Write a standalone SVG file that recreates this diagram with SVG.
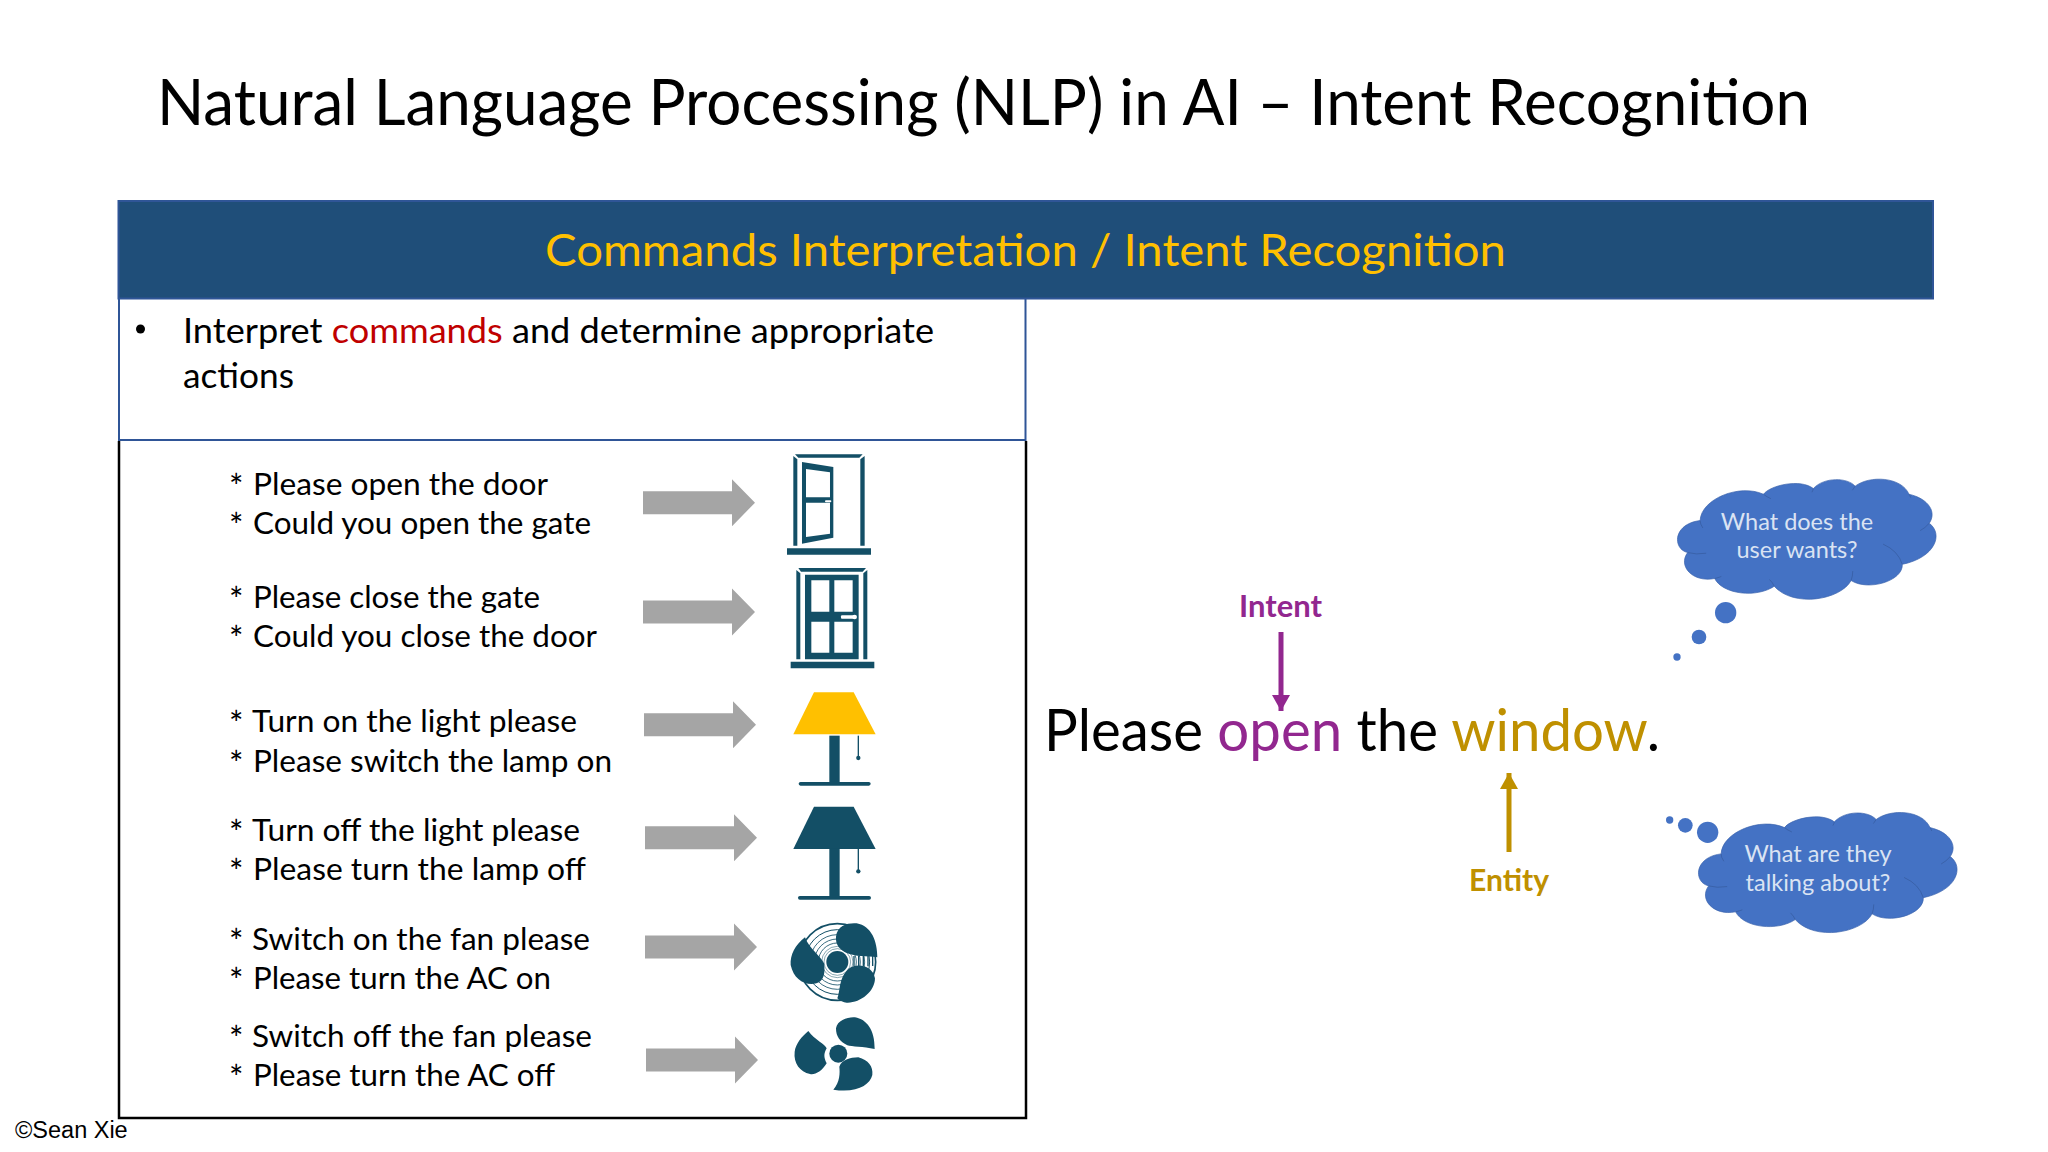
<svg xmlns="http://www.w3.org/2000/svg" xmlns:xlink="http://www.w3.org/1999/xlink" width="2048" height="1152" viewBox="0 0 2048 1152">
<style>
text{font-family:"Lato","Carlito","Open Sans",sans-serif;fill:#000}
.title{font-size:64px}
.hd{font-size:45px;fill:#ffc000}
.body{font-size:34px}
.red{fill:#c00000}
.ln{font-size:30px}
.star{font-size:34px}
.sent{font-size:58px}
.pur{fill:#92278f}
.gold{fill:#bf9000}
.lab{font-size:30px;font-weight:700}
.cl{font-size:23.500px;fill:#dae3f3;text-anchor:middle}
.icon{fill:#134f66}
.w{fill:#fff}
.cloud{fill:#4472c4;stroke:#3a62ab;stroke-width:2}
.fold{fill:none;stroke:#2f528f;stroke-width:1.500}
.bub{fill:#4472c4}
.gray{fill:#a5a5a5}
</style>
<defs>
<path id="ga" d="M0,-11.5H89V-23.5L112,0L89,23.5V11.5H0Z"/>
<path id="cloudShape" d="M122,150C125,85 240,40 310,72C330,45 420,25 458,55C490,20 560,22 582,48C625,15 720,20 742,72C800,85 825,125 802,158C845,190 820,260 722,280C725,330 620,360 570,328C540,385 400,410 342,345C290,380 190,370 165,322C100,335 55,285 85,245C40,235 40,160 122,150Z"/>
<path id="cloudFold" d="M85,245Q110,252 140,247M122,150Q122,160 130,172M722,280Q710,240 665,220M802,158Q790,172 775,180M570,328Q575,315 575,300M342,345Q338,335 328,325M165,322Q175,320 185,316M310,72Q320,80 332,85M458,55Q457,60 454,66M582,48Q578,54 574,60M742,72Q745,76 747,82"/>
<marker id="hp" markerUnits="userSpaceOnUse" markerWidth="18" markerHeight="18" refX="16" refY="9" orient="auto"><path d="M0,0L16,9L0,18Z" fill="#92278f"/></marker>
<marker id="hg" markerUnits="userSpaceOnUse" markerWidth="18" markerHeight="18" refX="16" refY="9" orient="auto"><path d="M0,0L16,9L0,18Z" fill="#bf9000"/></marker>
</defs>
<rect width="2048" height="1152" fill="#fff"/>
<text id="title" class="title" x="157" y="125" textLength="1653" lengthAdjust="spacingAndGlyphs">Natural Language Processing (NLP) in AI – Intent Recognition</text>
<g id="header">
<rect x="118.500" y="201" width="1814.500" height="97.500" fill="#1f4e79" stroke="#2f5597" stroke-width="2"/>
<text class="hd" x="545" y="266" textLength="961" lengthAdjust="spacingAndGlyphs">Commands Interpretation / Intent Recognition</text>
</g>
<g id="bullet-panel">
<path d="M119,299V440H1025.500V299" fill="none" stroke="#2f5597" stroke-width="2"/>
<circle cx="140.500" cy="329" r="4.500" fill="#000"/>
<text class="body" x="183" y="343" textLength="751" lengthAdjust="spacingAndGlyphs">Interpret <tspan class="red">commands</tspan> and determine appropriate</text>
<text class="body" x="183" y="388" textLength="111" lengthAdjust="spacingAndGlyphs">actions</text>
</g>
<path id="list-panel" d="M119,441V1118H1026V441" fill="none" stroke="#000" stroke-width="2.500"/>
<g id="commands">
<text class="ln" x="229" y="495"><tspan class="star" dy="4">*</tspan> <tspan x="253" dy="-4" textLength="295" lengthAdjust="spacingAndGlyphs">Please open the door</tspan></text>
<text class="ln" x="229" y="534"><tspan class="star" dy="4">*</tspan> <tspan x="253" dy="-4" textLength="338" lengthAdjust="spacingAndGlyphs">Could you open the gate</tspan></text>
<text class="ln" x="229" y="608"><tspan class="star" dy="4">*</tspan> <tspan x="253" dy="-4" textLength="287" lengthAdjust="spacingAndGlyphs">Please close the gate</tspan></text>
<text class="ln" x="229" y="647"><tspan class="star" dy="4">*</tspan> <tspan x="253" dy="-4" textLength="344" lengthAdjust="spacingAndGlyphs">Could you close the door</tspan></text>
<text class="ln" x="229" y="732"><tspan class="star" dy="4">*</tspan> <tspan x="252" dy="-4" textLength="325" lengthAdjust="spacingAndGlyphs">Turn on the light please</tspan></text>
<text class="ln" x="229" y="772"><tspan class="star" dy="4">*</tspan> <tspan x="253" dy="-4" textLength="359" lengthAdjust="spacingAndGlyphs">Please switch the lamp on</tspan></text>
<text class="ln" x="229" y="841"><tspan class="star" dy="4">*</tspan> <tspan x="252" dy="-4" textLength="328" lengthAdjust="spacingAndGlyphs">Turn off the light please</tspan></text>
<text class="ln" x="229" y="880"><tspan class="star" dy="4">*</tspan> <tspan x="253" dy="-4" textLength="333" lengthAdjust="spacingAndGlyphs">Please turn the lamp off</tspan></text>
<text class="ln" x="229" y="950"><tspan class="star" dy="4">*</tspan> <tspan x="252" dy="-4" textLength="338" lengthAdjust="spacingAndGlyphs">Switch on the fan please</tspan></text>
<text class="ln" x="229" y="989"><tspan class="star" dy="4">*</tspan> <tspan x="253" dy="-4" textLength="298" lengthAdjust="spacingAndGlyphs">Please turn the AC on</tspan></text>
<text class="ln" x="229" y="1047"><tspan class="star" dy="4">*</tspan> <tspan x="252" dy="-4" textLength="340" lengthAdjust="spacingAndGlyphs">Switch off the fan please</tspan></text>
<text class="ln" x="229" y="1086"><tspan class="star" dy="4">*</tspan> <tspan x="253" dy="-4" textLength="302" lengthAdjust="spacingAndGlyphs">Please turn the AC off</tspan></text>
</g>
<g id="connectors">
<use xlink:href="#ga" href="#ga" class="gray" x="643" y="502.700"/>
<use xlink:href="#ga" href="#ga" class="gray" x="643" y="612"/>
<use xlink:href="#ga" href="#ga" class="gray" x="644" y="724.700"/>
<use xlink:href="#ga" href="#ga" class="gray" x="645" y="837.700"/>
<use xlink:href="#ga" href="#ga" class="gray" x="645" y="947"/>
<use xlink:href="#ga" href="#ga" class="gray" x="646" y="1060"/>
<line x1="1281" y1="632" x2="1281" y2="711" stroke="#92278f" stroke-width="5" marker-end="url(#hp)"/>
<line x1="1509" y1="852" x2="1509" y2="773" stroke="#bf9000" stroke-width="5" marker-end="url(#hg)"/>
</g>
<g id="door-open" class="icon" transform="translate(760,440) scale(.3333)">
<path d="M105,43H308L298,53H115ZM100,48L112,58V317H100ZM314,48L301,58V317H314ZM81,325H333V344H81Z"/>
<path fill-rule="evenodd" d="M126,66L220,81V293L126,311ZM138,87V172H210V97ZM138,188V291L210,281V188Z"/>
<rect class="w" x="195" y="181" width="19" height="6" rx="3"/>
</g>
<g id="door-closed" class="icon" transform="translate(760,440) scale(.3333)">
<path d="M115,384H318L308,395H123ZM109,390L121,400V658H109ZM322,390L310,400V658H322ZM92,665H343V685H92Z"/>
<path fill-rule="evenodd" d="M135,404H296V658H135ZM154,421V515H208V421ZM223,421V515H278V421ZM154,545V638H208V545ZM223,545V638H278V545Z"/>
<rect class="w" x="243" y="526" width="42" height="10" rx="3"/>
<circle class="w" cx="284" cy="531" r="7"/>
</g>
<g id="lamp-on" class="icon" transform="translate(760,680) scale(.3333)">
<path style="fill:#ffc000" d="M162,37H281L347,163H100Z"/>
<rect x="208" y="167" width="31" height="143"/>
<rect x="116" y="306" width="216" height="11" rx="5.500"/>
<rect x="293" y="167" width="4" height="65"/>
<circle cx="295" cy="234" r="6.500"/>
</g>
<g id="lamp-off" class="icon" transform="translate(760,680) scale(.3333)">
<path d="M162,380H281L347,507H100Z"/>
<rect x="208" y="507" width="31" height="143"/>
<rect x="114" y="648" width="219" height="11" rx="5.500"/>
<rect x="293" y="507" width="4" height="65"/>
<circle cx="295" cy="574" r="6.500"/>
</g>
<g id="fan-on" transform="translate(760,900) scale(.3333)">
<g fill="none" stroke="#134f66">
<circle cx="232" cy="186" r="115" stroke-width="5"/>
<circle cx="232" cy="186" r="97" stroke-width="3"/>
<circle cx="232" cy="186" r="82" stroke-width="2.500"/>
<circle cx="232" cy="186" r="69" stroke-width="2.500"/>
<circle cx="232" cy="186" r="57" stroke-width="2.500"/>
<circle cx="232" cy="186" r="47" stroke-width="1.500"/>
<circle cx="232" cy="186" r="40" stroke-width="1.500"/>
<path d="M282,168V198M296,167V198M310,166V199M324,166V199M338,167V198" stroke-width="4"/>
</g>
<circle class="icon" cx="232" cy="186" r="33"/>
<path class="icon" d="M228,110C232,75 265,68 290,70C335,78 352,125 352,172C320,168 285,170 262,160C240,150 226,135 228,110Z"/>
<path class="icon" d="M135,112C105,135 90,165 92,195C100,232 125,252 155,252C190,252 197,225 192,190C180,165 150,150 135,112Z"/>
<path class="icon" d="M232,295C242,270 235,235 266,206C290,188 338,195 345,235C345,275 300,310 260,308C250,307 240,303 232,295Z"/>
</g>
<g id="fan-off" class="icon" transform="translate(760,900) scale(.3333)">
<circle cx="235" cy="461" r="27"/>
<path d="M228,385C232,360 265,350 285,352C320,358 345,390 344,447C310,440 275,440 262,436C240,425 228,410 228,385Z"/>
<path d="M145,393C165,420 195,432 200,445C192,460 190,470 200,490C185,515 165,525 150,522C120,515 100,490 104,455C108,430 125,410 145,393Z"/>
<path d="M220,569C240,545 240,520 238,500C245,480 270,472 295,472C325,480 340,500 337,525C330,555 290,580 220,569Z"/>
</g>
<g id="sentence">
<text class="sent" x="1044" y="751" textLength="616" lengthAdjust="spacingAndGlyphs">Please <tspan class="pur">open</tspan> the <tspan class="gold">window</tspan>.</text>
<text class="lab pur" x="1239" y="617" textLength="83" lengthAdjust="spacingAndGlyphs">Intent</text>
<text class="lab gold" x="1469" y="891" textLength="80" lengthAdjust="spacingAndGlyphs">Entity</text>
</g>
<g id="cloud-intent">
<g transform="translate(1660,470) scale(.3333)">
<g transform="translate(-3,0) scale(1.011)">
<use xlink:href="#cloudShape" href="#cloudShape" class="cloud"/>
<use xlink:href="#cloudFold" href="#cloudFold" class="fold"/>
</g>
<circle class="bub" cx="197" cy="428" r="32"/><circle class="bub" cx="117" cy="501" r="22"/><circle class="bub" cx="51" cy="561" r="11"/>
</g>
<text class="cl" x="1797" y="530">What does the</text>
<text class="cl" x="1797" y="558">user wants?</text>
</g>
<g id="cloud-entity">
<g transform="translate(1660,800) scale(.3333)">
<g transform="translate(60,10) scale(1.011)">
<use xlink:href="#cloudShape" href="#cloudShape" class="cloud"/>
<use xlink:href="#cloudFold" href="#cloudFold" class="fold"/>
</g>
<circle class="bub" cx="143" cy="97" r="32"/><circle class="bub" cx="76" cy="76" r="22"/><circle class="bub" cx="29" cy="60" r="11"/>
</g>
<text class="cl" x="1818" y="862">What are they</text>
<text class="cl" x="1818" y="891">talking about?</text>
</g>
<text id="credit" x="15" y="1138" style="font-family:'Liberation Sans',Arial,sans-serif;font-size:23.500px">©Sean Xie</text>
</svg>
